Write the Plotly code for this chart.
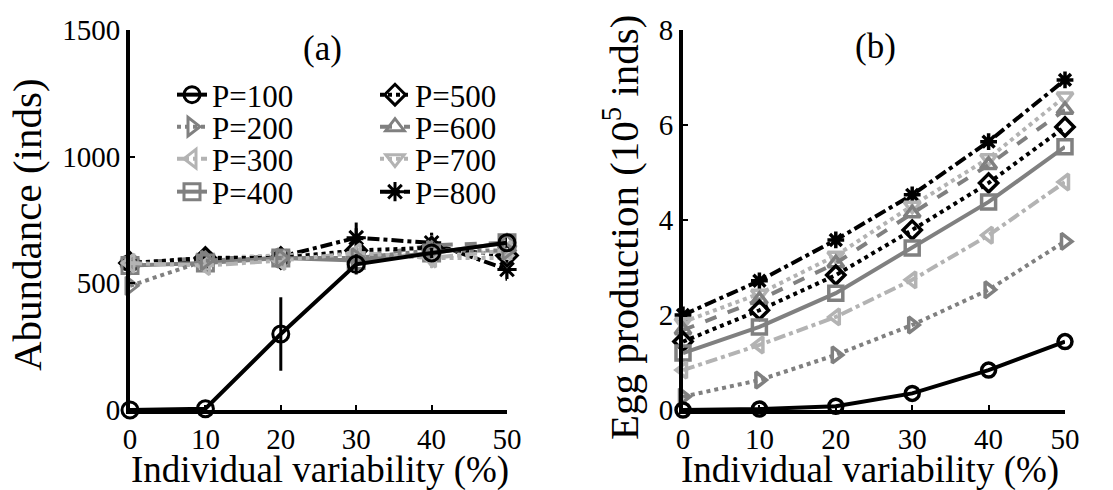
import plotly.graph_objects as go

# ---------------- data ----------------
variability = [0, 10, 20, 30, 40, 50]
series_names = ["P=100", "P=200", "P=300", "P=400", "P=500", "P=600", "P=700", "P=800"]

abund_p100 = [0, 5, 300, 575, 620, 660]
abund_p200 = [490, 590, 600, 600, 630, 630]
abund_p300 = [580, 570, 590, 620, 600, 630]
abund_p400 = [570, 580, 600, 590, 620, 660]
abund_p500 = [580, 600, 600, 630, 640, 610]
abund_p600 = [580, 600, 600, 600, 650, 660]
abund_p700 = [580, 600, 610, 620, 600, 600]
abund_p800 = [580, 595, 605, 680, 660, 555]

err_p100 = [0, 0, 145, 40, 20, 20]
err_p300 = [25, 20, 20, 25, 40, 30]
err_p600 = [15, 15, 25, 30, 40, 35]
err_p800 = [20, 20, 30, 60, 40, 45]

egg_p100 = [0.0, 0.02, 0.08, 0.35, 0.84, 1.44]
egg_p200 = [0.28, 0.63, 1.16, 1.79, 2.53, 3.55]
egg_p300 = [0.84, 1.37, 1.96, 2.74, 3.68, 4.8]
egg_p400 = [1.2, 1.75, 2.46, 3.41, 4.38, 5.54]
egg_p500 = [1.44, 2.1, 2.84, 3.79, 4.78, 5.96]
egg_p600 = [1.68, 2.32, 3.09, 4.14, 5.16, 6.32]
egg_p700 = [1.85, 2.45, 3.25, 4.3, 5.3, 6.6]
egg_p800 = [2.0, 2.72, 3.58, 4.53, 5.65, 6.95]

abund = [abund_p100, abund_p200, abund_p300, abund_p400,
         abund_p500, abund_p600, abund_p700, abund_p800]
eggs = [egg_p100, egg_p200, egg_p300, egg_p400,
        egg_p500, egg_p600, egg_p700, egg_p800]
errors = {0: err_p100, 2: err_p300, 5: err_p600, 7: err_p800}

# ---------------- styles ----------------
BLACK = "#000000"
GRAY = "#808080"
LGRAY = "#b3b3b3"
styles = [
    dict(color=BLACK, dash="solid", symbol="circle-open"),
    dict(color=GRAY, dash="dot", symbol="triangle-right-open"),
    dict(color=LGRAY, dash="dashdot", symbol="triangle-left-open"),
    dict(color=GRAY, dash="solid", symbol="square-open"),
    dict(color=BLACK, dash="dot", symbol="diamond-open"),
    dict(color=GRAY, dash="dash", symbol="triangle-up-open"),
    dict(color=LGRAY, dash="dot", symbol="triangle-down-open"),
    dict(color=BLACK, dash="dashdot", symbol="asterisk-open"),
]

FONT = "Liberation Serif, Times New Roman, serif"
OFF = 8                      # page body margin
W, H = 1113 - OFF, 490 - OFF

def px_x(p):
    return (p - OFF) / W

def px_y(p):
    return (H - (p - OFF)) / H

fig = go.Figure()

legend_ids = ["legend"] + ["legend%d" % i for i in range(2, 9)]

# draw order: P=100 on top -> add it last
order = [7, 6, 5, 4, 3, 2, 1, 0]
for i in order:
    st = styles[i]
    err = errors.get(i)
    fig.add_trace(go.Scatter(
        x=variability, y=abund[i], name=series_names[i],
        mode="lines+markers", xaxis="x", yaxis="y",
        line=dict(color=st["color"], dash=st["dash"], width=4),
        marker=dict(symbol=st["symbol"], size=16, color=st["color"],
                    line=dict(color=st["color"], width=3)),
        error_y=dict(type="data", array=err, visible=err is not None,
                     color=st["color"], thickness=3, width=0),
        cliponaxis=False, legend=legend_ids[i], showlegend=True,
    ))
for i in order:
    st = styles[i]
    fig.add_trace(go.Scatter(
        x=variability, y=eggs[i], name=series_names[i],
        mode="lines+markers", xaxis="x2", yaxis="y2",
        line=dict(color=st["color"], dash=st["dash"], width=4),
        marker=dict(symbol=st["symbol"], size=14, color=st["color"],
                    line=dict(color=st["color"], width=3.5)),
        cliponaxis=False, showlegend=False,
    ))

axis_common = dict(
    showline=True, linewidth=4, linecolor="black", mirror=False,
    showgrid=False, zeroline=False, ticks="inside", ticklen=5,
    tickwidth=2, tickcolor="black", automargin=False,
    tickfont=dict(family=FONT, size=29, color="black"),
)

layout = dict(
    template="none",
    width=W, height=H, paper_bgcolor="white", plot_bgcolor="white",
    margin=dict(l=0, r=0, t=0, b=0, pad=0, autoexpand=False),
    font=dict(family=FONT, color="black"),
    xaxis=dict(domain=[px_x(130), px_x(507)], range=[0, 50],
               tickvals=variability, anchor="y", **axis_common),
    yaxis=dict(domain=[px_y(410), px_y(30)], range=[0, 1500],
               tickvals=[0, 500, 1000, 1500], anchor="x", **axis_common),
    xaxis2=dict(domain=[px_x(683), px_x(1065)], range=[0, 50],
                tickvals=variability, anchor="y2", **axis_common),
    yaxis2=dict(domain=[px_y(410), px_y(30)], range=[0, 8],
                tickvals=[0, 2, 4, 6, 8], anchor="x2", **axis_common),
)

# legends: two columns of four entries
col_x = [172, 375]
row_y = [95, 127, 159, 192]
for i, lid in enumerate(legend_ids):
    col, row = divmod(i, 4)
    layout[lid] = dict(
        x=px_x(col_x[col]), y=px_y(row_y[row]),
        xanchor="left", yanchor="middle",
        bgcolor="rgba(0,0,0,0)", borderwidth=0,
        font=dict(family=FONT, size=31, color="black"),
        itemwidth=30,
    )

def note(text, x, y, size, angle=0):
    return dict(text=text, x=px_x(x), y=px_y(y), xref="paper", yref="paper",
                xanchor="center", yanchor="middle", textangle=angle,
                showarrow=False, font=dict(family=FONT, size=size, color="black"))

layout["annotations"] = [
    note("(a)", 322, 48, 35),
    note("(b)", 875, 46, 35),
    note("Individual variability (%)", 320, 470, 37),
    note("Individual variability (%)", 870, 470, 37),
    note("Abundance (inds)", 27, 225, 41, -90),
    note("Egg production (10<sup>5</sup> inds)", 621, 228, 41, -90),
]

fig.update_layout(**layout)
fig.write_html("out.html")
